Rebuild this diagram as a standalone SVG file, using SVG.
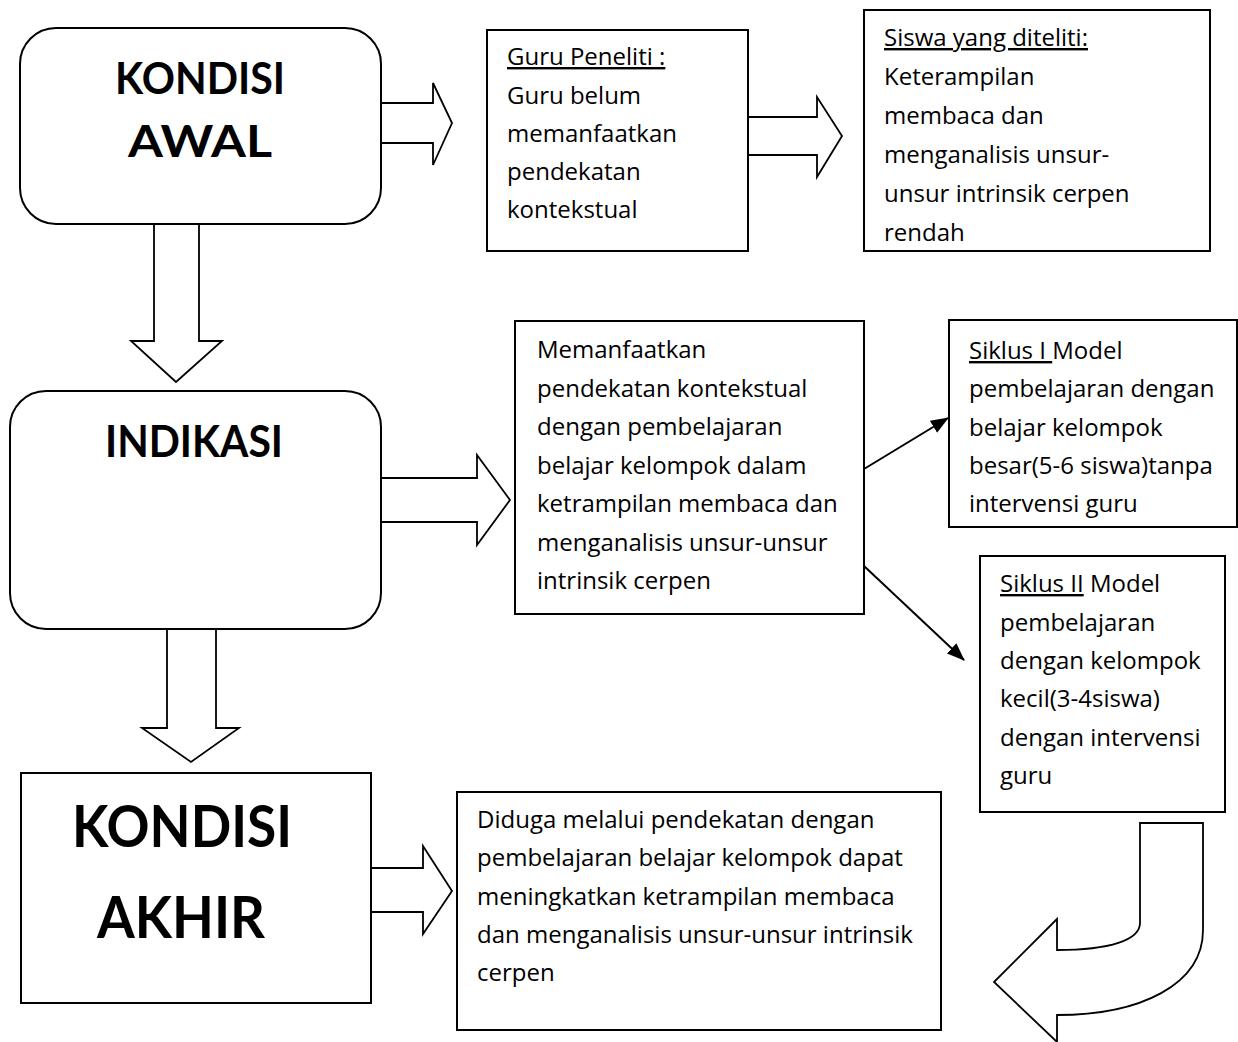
<svg xmlns="http://www.w3.org/2000/svg" width="1238" height="1042" viewBox="0 0 1238 1042">
<style>
.box{fill:#fff;stroke:#000;stroke-width:2}
.ar{fill:#fff;stroke:#000;stroke-width:1.8;stroke-linejoin:miter}
.t{font-family:"Open Sans",Lato,"Liberation Sans",sans-serif;font-size:24px;fill:#000}
.h{font-family:Lato,"Open Sans","Liberation Sans",sans-serif;font-weight:bold;fill:#000;text-anchor:middle}
.ln{stroke:#000;stroke-width:2;fill:none}
</style>
<defs>
<marker id="m" markerWidth="18" markerHeight="14" refX="17" refY="7" orient="auto" markerUnits="userSpaceOnUse" viewBox="0 0 18 14">
<path d="M0,0 L18,7 L0,14 z" fill="#000"/>
</marker>
</defs>
<rect width="1238" height="1042" fill="#fff"/>
<g id="connectors">
<path class="ar" d="M381,103 H433 V83 L452,123 L433,165 V143 H381"/>
<path class="ar" d="M748,117 H817 V97 L842,136 L817,177 V155 H748"/>
<path class="ar" d="M154,224 V341 H131 L176,382 L222,341 H199 V224"/>
<path class="ar" d="M381,478 H477 V455 L510,500 L477,545 V522 H381"/>
<path class="ar" d="M167,629 V728 H142 L191,762 L239,728 H216 V629"/>
<path class="ar" d="M371,868 H423 V846 L452,891 L423,934 V912 H371"/>
<line class="ln" x1="864" y1="469" x2="948" y2="418" marker-end="url(#m)"/>
<line class="ln" x1="864" y1="566" x2="964" y2="660" marker-end="url(#m)"/>
<path class="ar" d="M1140,823 H1203 V930 C1203,985 1140,1015 1057,1015 V1042 L994,982 L1057,919 V950 C1110,950 1140,940 1140,923 Z"/>
</g>
<g id="kondisi-awal">
<rect class="box" x="20" y="28" width="361" height="196" rx="36"/>
<text class="h" x="200" y="94" font-size="44" textLength="170" lengthAdjust="spacingAndGlyphs">KONDISI</text>
<text class="h" x="200" y="157" font-size="44" textLength="144" lengthAdjust="spacingAndGlyphs">AWAL</text>
</g>
<g id="guru-peneliti">
<rect class="box" x="487" y="30" width="261" height="221"/>
<text class="t" x="507" y="65" text-decoration="underline">Guru Peneliti :</text>
<text class="t" x="507" y="104">Guru belum</text>
<text class="t" x="507" y="142">memanfaatkan</text>
<text class="t" x="507" y="180">pendekatan</text>
<text class="t" x="507" y="218">kontekstual</text>
</g>
<g id="siswa">
<rect class="box" x="864" y="10" width="346" height="241"/>
<text class="t" x="884" y="46" text-decoration="underline">Siswa yang diteliti:</text>
<text class="t" x="884" y="85">Keterampilan</text>
<text class="t" x="884" y="124">membaca dan</text>
<text class="t" x="884" y="163">menganalisis unsur-</text>
<text class="t" x="884" y="202">unsur intrinsik cerpen</text>
<text class="t" x="884" y="241">rendah</text>
</g>
<g id="indikasi">
<rect class="box" x="10" y="391" width="371" height="238" rx="36"/>
<text class="h" x="194" y="457" font-size="44" textLength="178" lengthAdjust="spacingAndGlyphs">INDIKASI</text>
</g>
<g id="memanfaatkan">
<rect class="box" x="515" y="321" width="349" height="293"/>
<text class="t" x="537" y="358">Memanfaatkan</text>
<text class="t" x="537" y="397">pendekatan kontekstual</text>
<text class="t" x="537" y="435">dengan pembelajaran</text>
<text class="t" x="537" y="474">belajar kelompok dalam</text>
<text class="t" x="537" y="512">ketrampilan membaca dan</text>
<text class="t" x="537" y="551">menganalisis unsur-unsur</text>
<text class="t" x="537" y="589">intrinsik cerpen</text>
</g>
<g id="siklus-1">
<rect class="box" x="949" y="320" width="288" height="207"/>
<text class="t" x="969" y="359"><tspan text-decoration="underline">Siklus I </tspan>Model</text>
<text class="t" x="969" y="397">pembelajaran dengan</text>
<text class="t" x="969" y="436">belajar kelompok</text>
<text class="t" x="969" y="474">besar(5-6 siswa)tanpa</text>
<text class="t" x="969" y="512">intervensi guru</text>
</g>
<g id="siklus-2">
<rect class="box" x="980" y="556" width="245" height="256"/>
<text class="t" x="1000" y="592"><tspan text-decoration="underline">Siklus II</tspan> Model</text>
<text class="t" x="1000" y="631">pembelajaran</text>
<text class="t" x="1000" y="669">dengan kelompok</text>
<text class="t" x="1000" y="707">kecil(3-4siswa)</text>
<text class="t" x="1000" y="746">dengan intervensi</text>
<text class="t" x="1000" y="784">guru</text>
</g>
<g id="kondisi-akhir">
<rect class="box" x="21" y="773" width="350" height="230"/>
<text class="h" x="182" y="847" font-size="58" textLength="220" lengthAdjust="spacingAndGlyphs">KONDISI</text>
<text class="h" x="181" y="938" font-size="58" textLength="168" lengthAdjust="spacingAndGlyphs">AKHIR</text>
</g>
<g id="diduga">
<rect class="box" x="457" y="792" width="484" height="238"/>
<text class="t" x="477" y="828">Diduga melalui pendekatan dengan</text>
<text class="t" x="477" y="866">pembelajaran belajar kelompok dapat</text>
<text class="t" x="477" y="905">meningkatkan ketrampilan membaca</text>
<text class="t" x="477" y="943">dan menganalisis unsur-unsur intrinsik</text>
<text class="t" x="477" y="981">cerpen</text>
</g>
</svg>
